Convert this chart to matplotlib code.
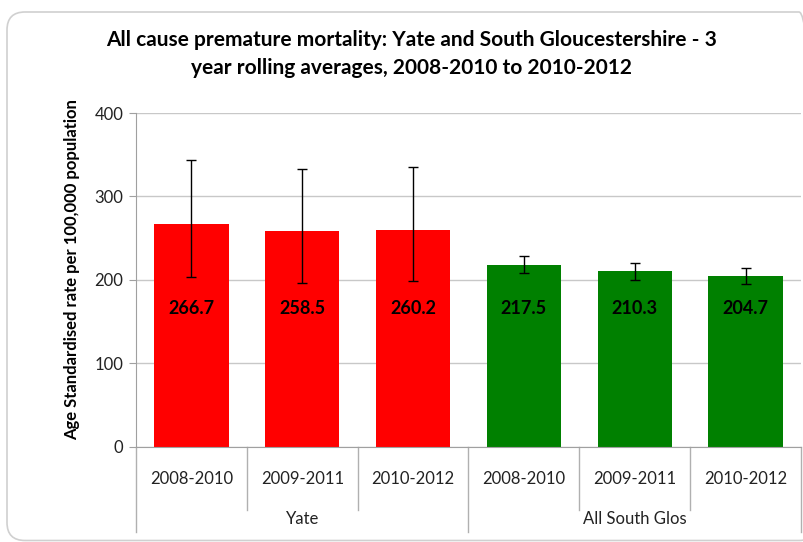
import matplotlib.pyplot as plt
from matplotlib.patches import FancyBboxPatch
from matplotlib.transforms import IdentityTransform

plt.rcParams['font.family'] = ['Lato', 'DejaVu Sans']

periods = ['2008-2010', '2009-2011', '2010-2012', '2008-2010', '2009-2011', '2010-2012']
groups = ['Yate', 'All South Glos']
rates = [266.7, 258.5, 260.2, 217.5, 210.3, 204.7]
ci_low = [203.0, 196.0, 198.4, 208.2, 199.8, 194.6]
ci_high = [344.2, 333.4, 335.0, 228.1, 220.1, 214.6]
colors = ['#ff0000'] * 3 + ['#008000'] * 3

fig = plt.figure(figsize=(8.04, 5.42), dpi=100)
ax = fig.add_axes([136 / 804, 1 - 446.5 / 542, 665 / 804, 333.5 / 542])

# outer chart border (pixel coords, right edge runs off the picture)
fig.patches.append(FancyBboxPatch((7, 1.5), 810, 528.5,
                                  boxstyle='round,pad=0,rounding_size=18',
                                  transform=IdentityTransform(), fill=False,
                                  edgecolor='#d0d0d0', lw=1.2))

x = list(range(len(rates)))
yerr = [[r - lo for r, lo in zip(rates, ci_low)], [hi - r for r, hi in zip(rates, ci_high)]]
ax.bar(x, rates, width=0.67, color=colors, zorder=2)
ax.errorbar(x, rates, yerr=yerr, fmt='none', ecolor='black', elinewidth=1, capsize=3.6, capthick=1, zorder=3)

for xi, r in zip(x, rates):
    ax.text(xi, 166, f'{r:.1f}', ha='center', va='center', fontsize=13, fontweight='bold', zorder=4)

ax.set_xlim(-0.5, len(rates) - 0.5)
ax.set_ylim(0, 400)
ax.set_yticks([0, 100, 200, 300, 400])
ax.yaxis.grid(True, color='#c8c8c8', lw=1)
ax.set_axisbelow(True)
ax.tick_params(axis='y', length=5, color='#a0a0a0', labelsize=12, pad=4, labelcolor='#222222')
ax.set_xticks(x)
ax.set_xticklabels(periods, fontsize=12, color='#222222')
ax.tick_params(axis='x', length=0, pad=18)
for s in ['top', 'right']:
    ax.spines[s].set_visible(False)
ax.spines['left'].set_color('#a0a0a0')
ax.spines['bottom'].set_color('#a0a0a0')

# category separators
tr = ax.get_xaxis_transform()
for b in [0.5, 1.5, 3.5, 4.5]:
    ax.plot([b, b], [0, -0.19], transform=tr, color='#b0b0b0', lw=1, clip_on=False)
for b in [-0.5, 2.5, 5.5]:
    ax.plot([b, b], [0, -0.255], transform=tr, color='#b0b0b0', lw=1, clip_on=False)
ax.text(1, -0.217, groups[0], transform=tr, ha='center', va='center', fontsize=12, color='#222222')
ax.text(4, -0.217, groups[1], transform=tr, ha='center', va='center', fontsize=12, color='#222222')

ax.set_ylabel('Age Standardised rate per 100,000 population', fontsize=12, fontweight='bold')
ax.yaxis.set_label_coords(-56 / 665, 0.53)

fig.text(412 / 804, 1 - 40 / 542, 'All cause premature mortality: Yate and South Gloucestershire - 3',
         ha='center', va='center', fontsize=15, fontweight='bold')
fig.text(412 / 804, 1 - 68 / 542, 'year rolling averages, 2008-2010 to 2010-2012',
         ha='center', va='center', fontsize=15, fontweight='bold')

fig.savefig('out.png', dpi=100)
